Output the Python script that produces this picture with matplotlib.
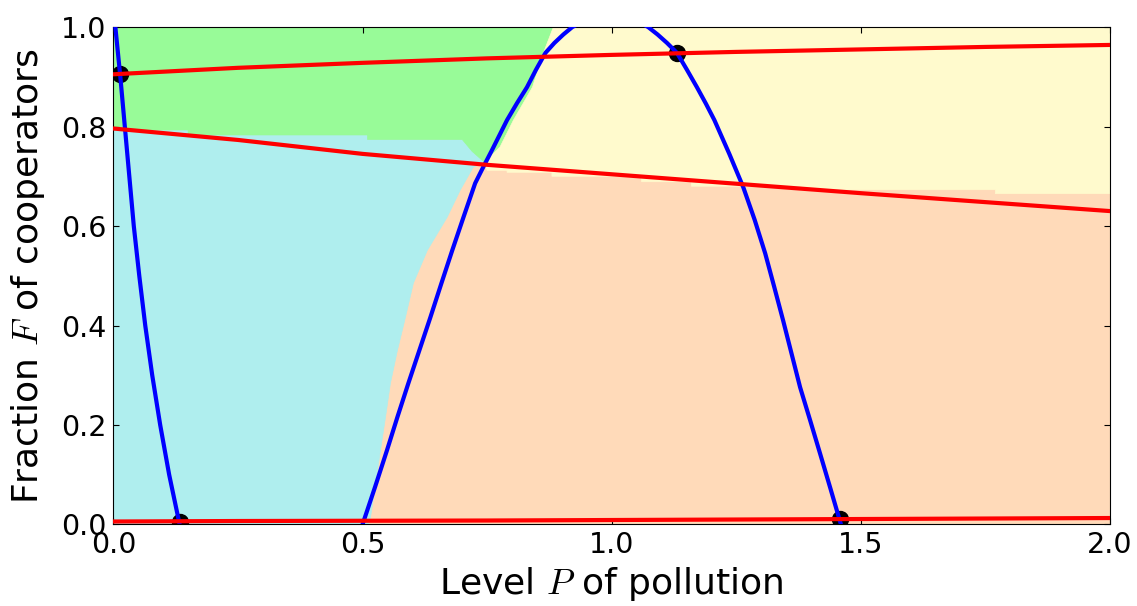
import numpy as np
import matplotlib.pyplot as plt

plt.rcParams['mathtext.fontset'] = 'cm'
plt.rcParams['font.family'] = 'DejaVu Sans'

# blue nullclines
blue_left_P = [0.004, 0.014, 0.023, 0.032, 0.041, 0.052, 0.064, 0.078, 0.094, 0.112, 0.133]
blue_left_F = [1.0, 0.9, 0.8, 0.7, 0.6, 0.5, 0.4, 0.3, 0.2, 0.1, 0.0]

blue_hump_P = [0.500, 0.525, 0.549, 0.570, 0.592, 0.614, 0.636, 0.658, 0.680, 0.703, 0.726,
               0.743, 0.760, 0.775, 0.790, 0.810, 0.830, 0.848, 0.867, 0.885, 0.903, 0.921,
               0.960, 0.997, 1.035, 1.073, 1.092, 1.111, 1.131, 1.151, 1.171, 1.189, 1.206,
               1.236, 1.264, 1.287, 1.308, 1.326, 1.344, 1.361, 1.378, 1.398, 1.418, 1.439, 1.460]
blue_hump_F = [0.0, 0.075, 0.149, 0.216, 0.284, 0.350, 0.416, 0.484, 0.551, 0.619, 0.686,
               0.720, 0.753, 0.783, 0.813, 0.847, 0.879, 0.914, 0.948, 0.968, 0.985, 1.0,
               1.020, 1.027, 1.020, 1.0, 0.985, 0.968, 0.948, 0.914, 0.879, 0.846, 0.813,
               0.745, 0.678, 0.612, 0.545, 0.478, 0.410, 0.343, 0.276, 0.210, 0.143, 0.072, 0.0]

# red nullclines
red_P = [0.0, 0.25, 0.5, 0.75, 1.0, 1.25, 1.5, 1.75, 2.0]
red_top_F = [0.905, 0.918, 0.928, 0.937, 0.944, 0.950, 0.955, 0.960, 0.964]
red_mid_F = [0.796, 0.773, 0.745, 0.723, 0.704, 0.685, 0.666, 0.648, 0.630]
red_low_F = [0.006, 0.007, 0.0075, 0.008, 0.009, 0.010, 0.011, 0.012, 0.013]

# equilibria
dots_P = [0.013, 0.133, 1.131, 1.458]
dots_F = [0.905, 0.006, 0.948, 0.011]

# basin boundaries
cp_P = [0.512, 0.516, 0.526, 0.536, 0.546, 0.556, 0.570, 0.586, 0.602, 0.630, 0.670, 0.696, 0.722, 0.745]
cp_F = [0.0, 0.014, 0.082, 0.149, 0.215, 0.284, 0.350, 0.416, 0.485, 0.551, 0.618, 0.672, 0.718, 0.728]

gy_P = [0.745, 0.776, 0.803, 0.841, 0.863, 0.883]
gy_F = [0.728, 0.759, 0.813, 0.879, 0.948, 1.0]

gc_P = [0.0, 0.15, 0.15, 0.51, 0.51, 0.70, 0.72, 0.745]
gc_F = [0.793, 0.793, 0.783, 0.783, 0.774, 0.774, 0.750, 0.728]

yp_P = [0.745, 0.75, 0.79, 0.79, 0.88, 0.88, 1.06, 1.06, 1.16, 1.16, 1.38, 1.38, 1.77, 1.77, 2.0]
yp_F = [0.728, 0.712, 0.712, 0.708, 0.708, 0.700, 0.700, 0.689, 0.689, 0.680, 0.680, 0.673, 0.673, 0.665, 0.665]

fig = plt.figure(figsize=(11.37, 6.06), dpi=100)
ax = fig.add_axes([0.0997, 0.1345, 0.8766, 0.8209])
ax.set_facecolor('peachpuff')

cyan_x = np.concatenate([[0], cp_P, gc_P[::-1]])
cyan_y = np.concatenate([[0], cp_F, gc_F[::-1]])
green_x = np.concatenate([gc_P, gy_P, [0]])
green_y = np.concatenate([gc_F, gy_F, [1]])
yellow_x = np.concatenate([gy_P, [2], yp_P[::-1]])
yellow_y = np.concatenate([gy_F, [1], yp_F[::-1]])

ax.fill(cyan_x, cyan_y, color='paleturquoise', lw=0.5, zorder=0)
ax.fill(green_x, green_y, color='palegreen', lw=0.5, zorder=0)
ax.fill(yellow_x, yellow_y, color='lemonchiffon', lw=0.5, zorder=0)

ax.plot(dots_P, dots_F, 'o', color='black', markersize=11.5, zorder=2)
ax.plot(blue_left_P, blue_left_F, color='blue', lw=3, zorder=3)
ax.plot(blue_hump_P, blue_hump_F, color='blue', lw=3, zorder=3)
for f in [red_top_F, red_mid_F, red_low_F]:
    ax.plot(red_P, f, color='red', lw=3, zorder=4)

ax.set_xlim(0, 2)
ax.set_ylim(0, 1)
ax.set_xticks([0.0, 0.5, 1.0, 1.5, 2.0])
ax.set_yticks([0.0, 0.2, 0.4, 0.6, 0.8, 1.0])
ax.tick_params(direction='in', length=4, width=0.8, top=True, right=True, labelsize=20.5, pad=5)
ax.set_xlabel('Level $P$ of pollution', fontsize=26)
ax.set_ylabel('Fraction $F$ of cooperators', fontsize=26, labelpad=10)

fig.savefig('out.png', dpi=100)
